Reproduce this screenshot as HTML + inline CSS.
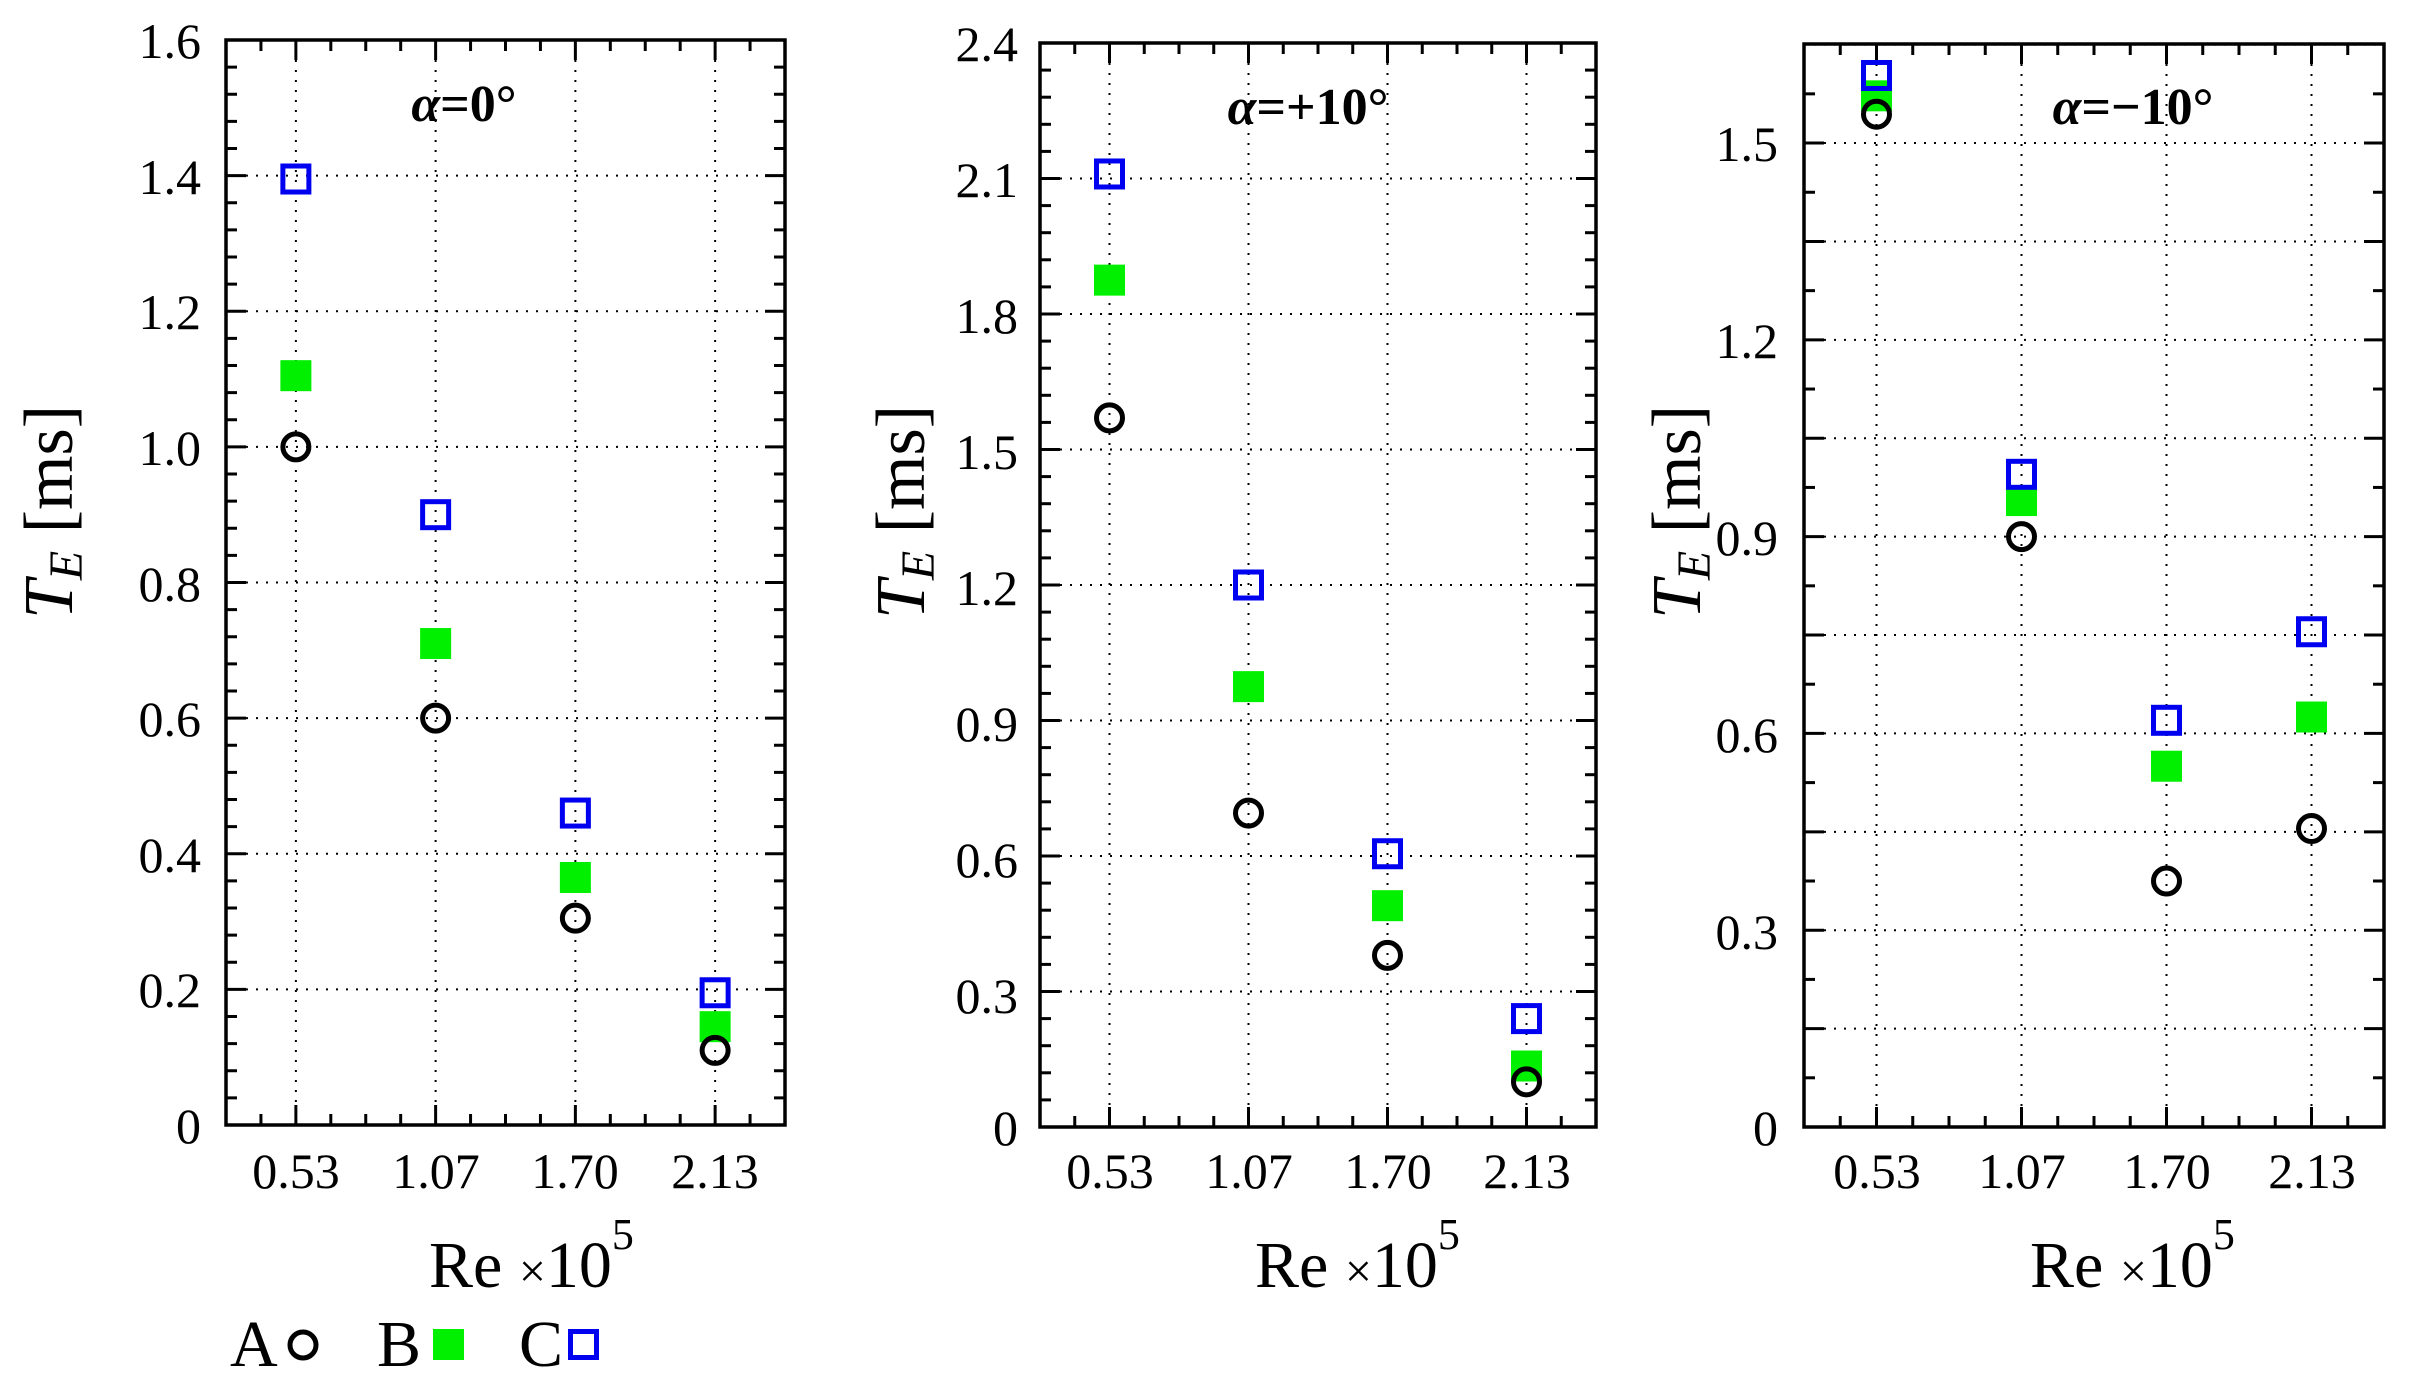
<!DOCTYPE html>
<html><head><meta charset="utf-8"><style>
html,body{margin:0;padding:0;background:#fff}
svg{display:block}
text{font-family:"Liberation Serif",serif;fill:#000}
.t{font-size:50px}
.yl{font-size:70px}
.ti{font-size:52px;font-weight:bold}
.xl{font-size:66px}
</style></head><body>
<svg id="s" width="2417" height="1394" viewBox="0 0 2417 1394" xmlns="http://www.w3.org/2000/svg">
<g id="g"></g>
<!-- panel 1 texts -->
<g class="t" text-anchor="end">
<text x="201" y="58">1.6</text><text x="201" y="194">1.4</text><text x="201" y="329">1.2</text><text x="201" y="465">1.0</text><text x="201" y="601">0.8</text><text x="201" y="736">0.6</text><text x="201" y="872">0.4</text><text x="201" y="1007">0.2</text><text x="201" y="1143">0</text>
</g>
<g class="t" text-anchor="middle">
<text x="296" y="1188">0.53</text><text x="436" y="1188">1.07</text><text x="575" y="1188">1.70</text><text x="715" y="1188">2.13</text>
</g>
<text class="yl" transform="translate(72,512) rotate(-90)" text-anchor="middle"><tspan font-style="italic">T</tspan><tspan font-style="italic" font-size="48" dy="10">E</tspan><tspan dy="-10"> [ms]</tspan></text>
<text class="ti" x="464" y="121" text-anchor="middle"><tspan font-style="italic">α</tspan>=0°</text>
<text class="xl" x="429" y="1287">Re <tspan font-size="48">×</tspan>10<tspan font-size="44" dy="-38">5</tspan></text>
<!-- panel 2 texts -->
<g class="t" text-anchor="end">
<text x="1018" y="61">2.4</text><text x="1018" y="197">2.1</text><text x="1018" y="333">1.8</text><text x="1018" y="469">1.5</text><text x="1018" y="605">1.2</text><text x="1018" y="741">0.9</text><text x="1018" y="877">0.6</text><text x="1018" y="1013">0.3</text><text x="1018" y="1145">0</text>
</g>
<g class="t" text-anchor="middle">
<text x="1110" y="1188">0.53</text><text x="1249" y="1188">1.07</text><text x="1388" y="1188">1.70</text><text x="1527" y="1188">2.13</text>
</g>
<text class="yl" transform="translate(924,512) rotate(-90)" text-anchor="middle"><tspan font-style="italic">T</tspan><tspan font-style="italic" font-size="48" dy="10">E</tspan><tspan dy="-10"> [ms]</tspan></text>
<text class="ti" x="1308" y="124" text-anchor="middle"><tspan font-style="italic">α</tspan>=+10°</text>
<text class="xl" x="1255" y="1287">Re <tspan font-size="48">×</tspan>10<tspan font-size="44" dy="-38">5</tspan></text>
<!-- panel 3 texts -->
<g class="t" text-anchor="end">
<text x="1778" y="161">1.5</text><text x="1778" y="358">1.2</text><text x="1778" y="555">0.9</text><text x="1778" y="752">0.6</text><text x="1778" y="949">0.3</text><text x="1778" y="1145">0</text>
</g>
<g class="t" text-anchor="middle">
<text x="1877" y="1188">0.53</text><text x="2022" y="1188">1.07</text><text x="2167" y="1188">1.70</text><text x="2312" y="1188">2.13</text>
</g>
<text class="yl" transform="translate(1700,512) rotate(-90)" text-anchor="middle"><tspan font-style="italic">T</tspan><tspan font-style="italic" font-size="48" dy="10">E</tspan><tspan dy="-10"> [ms]</tspan></text>
<text class="ti" x="2133" y="124" text-anchor="middle"><tspan font-style="italic">α</tspan>=−10°</text>
<text class="xl" x="2030" y="1287">Re <tspan font-size="48">×</tspan>10<tspan font-size="44" dy="-38">5</tspan></text>
<!-- legend -->
<g class="xl">
<text x="230" y="1366">A</text><text x="377" y="1366">B</text><text x="519" y="1366">C</text>
</g>
<circle cx="303" cy="1345" r="13" fill="none" stroke="#000" stroke-width="5"/>
<rect x="433" y="1329" width="31" height="31" fill="#00f000"/>
<rect x="570.5" y="1331.5" width="26" height="26" fill="none" stroke="#0000f0" stroke-width="5"/>
</svg>
<script>
var NS="http://www.w3.org/2000/svg",G=document.getElementById("g");
function el(t,a){var e=document.createElementNS(NS,t);for(var k in a)e.setAttribute(k,a[k]);G.appendChild(e);return e;}
var P=[
 {l:226,r:785,t:40,b:1125,ymax:1.6,maj:0.2,grid:0.2,min:0.04,A:[1.0,0.6,0.305,0.11],B:[1.105,0.71,0.365,0.145],C:[1.395,0.9,0.46,0.195]},
 {l:1040,r:1596,t:43,b:1127,ymax:2.4,maj:0.3,grid:0.3,min:0.06,A:[1.57,0.695,0.38,0.1],B:[1.875,0.975,0.49,0.135],C:[2.11,1.2,0.605,0.24]},
 {l:1804,r:2384,t:44,b:1127,ymax:1.651,maj:0.3,grid:0.15,min:0.075,A:[1.544,0.9,0.375,0.455],B:[1.572,0.955,0.55,0.625],C:[1.603,0.995,0.62,0.755]}
];
P.forEach(function(p){
 var w=(p.r-p.l)/4,H=p.b-p.t;
 function Y(v){return p.b-v/p.ymax*H;}
 function X(i){return p.l+(i+0.5)*w;}
 for(var v=p.grid;v<p.ymax-1e-6;v+=p.grid){var y=Y(v);el("line",{x1:p.l,x2:p.r,y1:y,y2:y,stroke:"#000","stroke-width":2,"stroke-dasharray":"2 8"});}
 for(var i=0;i<4;i++){var x=X(i);el("line",{x1:x,x2:x,y1:p.t,y2:p.b,stroke:"#000","stroke-width":2,"stroke-dasharray":"2 8"});}
 var n=Math.round(p.ymax/p.min+1e-6);
 for(var k=1;k<=n;k++){var v=k*p.min,y=Y(v);if(y<p.t+2)continue;var mj=Math.abs(v/p.maj-Math.round(v/p.maj))<1e-4||Math.abs(v/p.grid-Math.round(v/p.grid))<1e-4;var L=mj?20:11;
  el("line",{x1:p.l,x2:p.l+L,y1:y,y2:y,stroke:"#000","stroke-width":3});el("line",{x1:p.r,x2:p.r-L,y1:y,y2:y,stroke:"#000","stroke-width":3});}
 for(var k=1;k<16;k++){var x=p.l+k*w/4,mj=(k%4==2),L=mj?20:11;
  el("line",{x1:x,x2:x,y1:p.b,y2:p.b-L,stroke:"#000","stroke-width":3});el("line",{x1:x,x2:x,y1:p.t,y2:p.t+L,stroke:"#000","stroke-width":3});}
 el("rect",{x:p.l,y:p.t,width:p.r-p.l,height:H,fill:"none",stroke:"#000","stroke-width":3.5});
 for(var i=0;i<4;i++){var x=X(i);
  el("rect",{x:x-15.5,y:Y(p.B[i])-15.5,width:31,height:31,fill:"#00f000"});}
 for(var i=0;i<4;i++){var x=X(i);
  el("circle",{cx:x,cy:Y(p.A[i]),r:13,fill:"none",stroke:"#000","stroke-width":5});
  el("rect",{x:x-13,y:Y(p.C[i])-13,width:26,height:26,fill:"none",stroke:"#0000f0","stroke-width":5});}
});
</script>
</body></html>
